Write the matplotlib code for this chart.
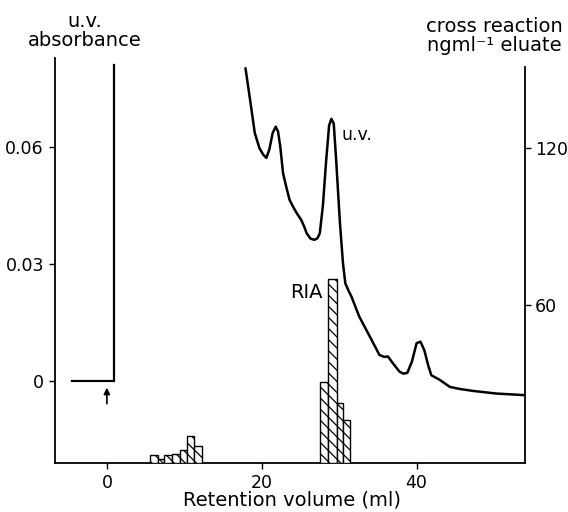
import matplotlib
matplotlib.use('Agg')
import matplotlib.pyplot as plt

# ---- data ----
# initial UV segment (baseline, then off-scale jump at injection)
uv0_x = [-4.5, 0.9, 0.9]
uv0_y = [0.0, 0.0, 0.081]

# main UV trace (absorbance) vs retention volume (ml)
uv_x = [17.9, 18.5, 19.1, 19.7, 20.2, 20.6, 21.0, 21.4, 21.8, 22.1, 22.4, 22.75,
        23.2, 23.6, 24.1, 24.5, 25.1, 25.5, 25.8, 26.3, 26.8, 27.2, 27.5, 27.9,
        28.3, 28.7, 29.0, 29.3, 29.6, 30.1, 30.5, 30.8, 31.2, 31.6, 32.1, 32.6,
        33.4, 34.2, 35.2, 35.8, 36.3, 37.0, 37.8, 38.3, 38.8, 39.4, 40.0, 40.5,
        41.0, 41.5, 41.9, 43.0, 44.3, 45.5, 47.2, 50.3, 53.9]
uv_y = [0.0802, 0.0720, 0.0636, 0.0597, 0.0580, 0.0572, 0.0595, 0.0635, 0.0652, 0.0640, 0.0600, 0.0533,
        0.0495, 0.0464, 0.0445, 0.0431, 0.0413, 0.0395, 0.0379, 0.0365, 0.0362, 0.0366, 0.0379, 0.0450,
        0.0560, 0.0655, 0.0672, 0.0660, 0.0570, 0.0405, 0.0300, 0.0250, 0.0232, 0.0216, 0.0190, 0.0165,
        0.0135, 0.0105, 0.0067, 0.0062, 0.0063, 0.0044, 0.0024, 0.0019, 0.0021, 0.0050, 0.0097, 0.0101,
        0.0079, 0.0040, 0.0015, 0.0003, -0.0015, -0.0020, -0.0025, -0.0032, -0.0036]

# RIA cross reaction (ng/ml eluate), histogram fractions
ria1_edges = [5.6, 6.6, 7.4, 8.4, 9.4, 10.3, 11.2, 12.3]
ria1_vals = [3.0, 1.5, 3.0, 3.6, 4.9, 10.3, 6.5]
ria2_edges = [27.5, 28.5, 29.7, 30.5, 31.4]
ria2_vals = [31.0, 70.0, 23.0, 16.3]

x_ticks = [0, 20, 40]
uv_ticks = [0, 0.03, 0.06]
uv_ticklabels = ['0', '0.03', '0.06']
ria_ticks = [60, 120]

# ---- figure ----
W, H = 568, 512
fig = plt.figure(figsize=(W / 100, H / 100), dpi=100)
L, R, B, T = 55, 525, 463, 58
ax = fig.add_axes([L / W, 1 - B / H, (R - L) / W, (B - T) / H])
ax2 = ax.twinx()

FS = 12.5
FL = 14
lw_sp = 1.3

ax.set_xlim(-6.7, 54.0)
ax.set_ylim(-0.0210, 0.0828)
ax2.set_ylim(0, 154.2)

for a in (ax, ax2):
    a.spines['top'].set_visible(False)
    a.patch.set_visible(False)
ax.spines['right'].set_visible(False)
ax2.spines['left'].set_visible(False)
ax2.spines['bottom'].set_visible(False)
for s in ('left', 'bottom'):
    ax.spines[s].set_linewidth(lw_sp)
ax2.spines['right'].set_linewidth(lw_sp)
ax2.spines['right'].set_bounds(0, 150.8)

# UV trace
ax.plot(uv0_x, uv0_y, color='black', lw=1.6, solid_joinstyle='miter')
ax.plot(uv_x, uv_y, color='black', lw=1.8, solid_capstyle='round')

# RIA histograms
plt.rcParams['hatch.linewidth'] = 0.9
for edges, vals in ((ria1_edges, ria1_vals), (ria2_edges, ria2_vals)):
    widths = [edges[i + 1] - edges[i] for i in range(len(vals))]
    ax2.bar(edges[:-1], vals, width=widths, align='edge', bottom=0,
            facecolor='white', edgecolor='black', linewidth=1.0,
            hatch='\\\\\\', zorder=3)

# injection arrow
ax.annotate('', xy=(0, -0.0017), xytext=(0, -0.0058),
            arrowprops=dict(arrowstyle='-|>', color='black', lw=1.2,
                            mutation_scale=9, shrinkA=0, shrinkB=0))

# ticks
ax.set_xticks(x_ticks)
ax.set_xticklabels([str(v) for v in x_ticks])
ax.set_yticks(uv_ticks)
ax.set_yticklabels(uv_ticklabels)
ax2.set_yticks(ria_ticks)
ax2.set_yticklabels([str(v) for v in ria_ticks])
ax.tick_params(axis='both', direction='out', length=4, width=1.0,
               labelsize=FS, pad=4)
ax2.tick_params(axis='y', direction='out', length=4, width=1.0,
                labelsize=FS, pad=3)

# annotations
ax.text(30.3, 0.063, 'u.v.', fontsize=FS, ha='left', va='center')
ax2.text(27.9, 65, 'RIA', fontsize=FL, ha='right', va='center')

fig.text(85 / W, 1 - 31 / H, 'u.v.\nabsorbance', fontsize=FL, ha='center',
         va='center', linespacing=1.0)
fig.text(494 / W, 1 - 36 / H, 'cross reaction\nngml\u207b\u00b9 eluate', fontsize=FL,
         ha='center', va='center', linespacing=1.0)
fig.text(292 / W, 1 - 500 / H, 'Retention volume (ml)', fontsize=FL,
         ha='center', va='center')

fig.savefig('out.png', dpi=100)
